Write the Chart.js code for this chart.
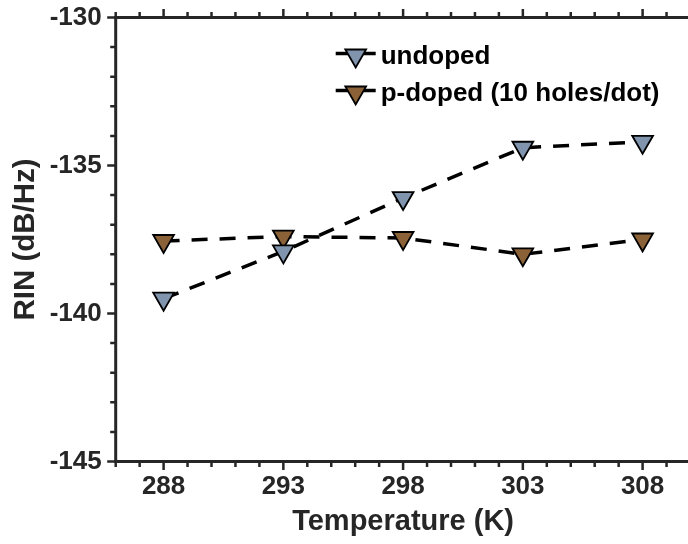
<!DOCTYPE html>
<html>
<head>
<meta charset="utf-8">
<script src="https://cdn.jsdelivr.net/npm/chart.js@4.4.1/dist/chart.umd.min.js"></script>
<style>
  html, body { margin: 0; padding: 0; background: #fff; overflow: hidden; }
  #wrap { width: 692px; height: 544px; }
</style>
</head>
<body>
<div id="wrap"><canvas id="rinChart" width="692" height="544"></canvas></div>
<script>
// RIN vs temperature, undoped and p-doped dots
const temperatures = [288, 293, 298, 303, 308];
const rinUndoped = [-139.5, -137.9, -136.1, -134.4, -134.2];
const rinPDoped = [-137.55, -137.4, -137.45, -138.0, -137.5];
const seriesNames = ["undoped", "p-doped (10 holes/dot)"];
const xTickLabels = [288, 293, 298, 303, 308];
const yTickLabels = [-145, -140, -135, -130];

const FONT = "'Liberation Sans', Arial, Helvetica, sans-serif";
const AXIS_COLOR = "#262626";
const MARKER_R = 12;

function toPoints(values) {
  return values.map((v, i) => ({ x: temperatures[i], y: v }));
}

function triangleDown(ctx, x, y, r) {
  ctx.beginPath();
  for (let k = 0; k < 3; k++) {
    const a = Math.PI + k * 2 * Math.PI / 3;
    const px = x + Math.sin(a) * r;
    const py = y - Math.cos(a) * r;
    if (k === 0) ctx.moveTo(px, py); else ctx.lineTo(px, py);
  }
  ctx.closePath();
}

// box frame with outward ticks on every side
const frame = {
  id: "frame",
  afterDraw(chart) {
    const { ctx, chartArea: a, scales } = chart;
    const xs = scales.x, ys = scales.y;
    ctx.save();
    ctx.strokeStyle = AXIS_COLOR;
    ctx.lineWidth = 2.5;
    ctx.lineCap = "butt";
    for (let v = xs.min; v <= xs.max; v++) {
      const px = xs.getPixelForValue(v);
      const len = xTickLabels.includes(v) ? 8.5 : 5.5;
      ctx.beginPath();
      ctx.moveTo(px, a.bottom); ctx.lineTo(px, a.bottom + len);
      ctx.moveTo(px, a.top); ctx.lineTo(px, a.top - len);
      ctx.stroke();
    }
    for (let v = ys.min; v <= ys.max; v++) {
      const py = ys.getPixelForValue(v);
      const len = yTickLabels.includes(v) ? 8.5 : 5.5;
      ctx.beginPath();
      ctx.moveTo(a.left, py); ctx.lineTo(a.left - len, py);
      ctx.moveTo(a.right, py); ctx.lineTo(a.right + len, py);
      ctx.stroke();
    }
    ctx.lineWidth = 3;
    ctx.strokeRect(a.left, a.top, a.right - a.left, a.bottom - a.top);
    ctx.restore();
  }
};

// legend inside the plot: short line, marker, label
const insideLegend = {
  id: "insideLegend",
  afterDatasetsDraw(chart) {
    const { ctx, chartArea: a } = chart;
    const x0 = a.left + 220, x1 = a.left + 260;
    const rows = [a.top + 38, a.top + 75];
    ctx.save();
    chart.data.datasets.forEach((ds, i) => {
      const y = rows[i];
      ctx.strokeStyle = "#000";
      ctx.lineWidth = 3.5;
      ctx.beginPath();
      ctx.moveTo(x0, y - 2); ctx.lineTo(x1, y - 2);
      ctx.stroke();
      triangleDown(ctx, (x0 + x1) / 2, y, MARKER_R);
      ctx.fillStyle = ds.pointBackgroundColor;
      ctx.fill();
      ctx.lineWidth = ds.pointBorderWidth;
      ctx.strokeStyle = ds.pointBorderColor;
      ctx.stroke();
      ctx.fillStyle = "#000";
      ctx.font = "bold 26px " + FONT;
      ctx.textAlign = "left";
      ctx.textBaseline = "middle";
      ctx.fillText(ds.label, x1 + 5, y + 1);
    });
    ctx.restore();
  }
};

const lineStyle = {
  borderColor: "#000",
  borderWidth: 3.5,
  borderDash: [16, 12],
  pointStyle: "triangle",
  pointRotation: 180,
  pointRadius: MARKER_R,
  pointHoverRadius: MARKER_R,
  pointBorderColor: "#000",
  pointBorderWidth: 1.8,
  fill: false,
  tension: 0
};

new Chart("rinChart", {
  type: "line",
  data: {
    datasets: [
      Object.assign({ label: seriesNames[0], data: toPoints(rinUndoped), pointBackgroundColor: "#8094AE" }, lineStyle),
      Object.assign({ label: seriesNames[1], data: toPoints(rinPDoped), pointBackgroundColor: "#8B6137" }, lineStyle)
    ]
  },
  options: {
    responsive: false,
    animation: false,
    layout: { autoPadding: false, padding: { top: 17.5, right: 1.5, left: 0, bottom: 0 } },
    plugins: { legend: { display: false }, tooltip: { enabled: false } },
    scales: {
      x: {
        type: "linear",
        min: 286,
        max: 310,
        grid: { display: false, drawTicks: false },
        border: { display: false },
        ticks: {
          stepSize: 1,
          autoSkip: false,
          maxRotation: 0,
          padding: 10,
          color: AXIS_COLOR,
          font: { family: FONT, size: 26, weight: "bold" },
          callback: (v) => (xTickLabels.includes(v) ? String(v) : "")
        },
        title: {
          display: true,
          text: "Temperature (K)",
          color: AXIS_COLOR,
          font: { family: FONT, size: 29, weight: "bold" },
          padding: { top: 0, bottom: 4.5 }
        },
        afterFit: (s) => {
          s.height = 82.5;
          s.paddingLeft = 0;
          s.paddingRight = 0;
        }
      },
      y: {
        min: -145,
        max: -130,
        grid: { display: false, drawTicks: false },
        border: { display: false },
        ticks: {
          stepSize: 1,
          autoSkip: false,
          padding: 14,
          color: AXIS_COLOR,
          font: { family: FONT, size: 26, weight: "bold" },
          callback: (v) => (yTickLabels.includes(v) ? String(v) : "")
        },
        title: {
          display: true,
          text: "RIN (dB/Hz)",
          color: AXIS_COLOR,
          font: { family: FONT, size: 29.5, weight: "bold" },
          padding: { top: 8.5, bottom: 0 }
        },
        afterFit: (s) => {
          s.width = 115.7;
          s.paddingTop = 0;
          s.paddingBottom = 0;
        }
      }
    }
  },
  plugins: [frame, insideLegend]
});
</script>
</body>
</html>
